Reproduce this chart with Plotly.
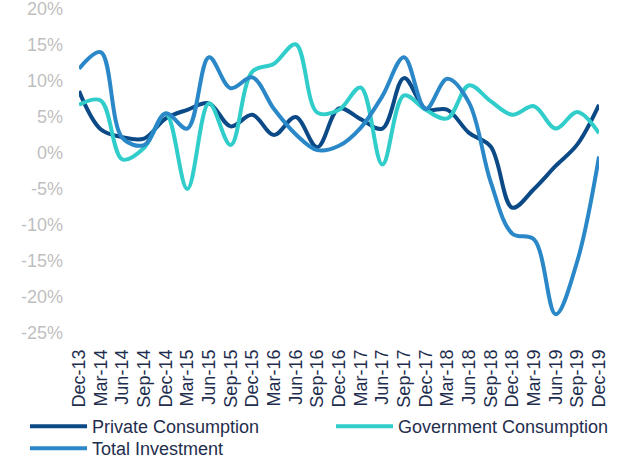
import plotly.graph_objects as go

quarters = ["Dec-13", "Mar-14", "Jun-14", "Sep-14", "Dec-14", "Mar-15", "Jun-15", "Sep-15",
            "Dec-15", "Mar-16", "Jun-16", "Sep-16", "Dec-16", "Mar-17", "Jun-17", "Sep-17",
            "Dec-17", "Mar-18", "Jun-18", "Sep-18", "Dec-18", "Mar-19", "Jun-19", "Sep-19", "Dec-19"]

private_consumption = [8.6, 3.3, 2.2, 2.0, 4.8, 6.0, 6.9, 3.7, 5.3, 2.5, 5.0, 0.8, 6.2, 4.7, 3.4,
                       10.4, 6.1, 6.0, 2.8, 0.9, -7.6, -5.0, -1.8, 1.2, 6.7]
government_consumption = [6.7, 7.3, -0.9, 0.7, 5.5, -5.0, 6.9, 1.1, 11.3, 12.4, 15.1, 5.6, 6.0,
                          9.1, -1.6, 8.0, 6.0, 4.8, 9.4, 7.2, 5.3, 6.5, 3.4, 5.7, 2.75]
total_investment = [11.7, 14.0, 2.1, 1.1, 5.5, 3.4, 13.3, 9.0, 10.5, 6.1, 2.6, 0.4, 1.0, 3.5, 7.9,
                    13.3, 6.1, 10.3, 7.0, -4.0, -11.2, -12.0, -22.4, -15.0, -0.5]

y_ticks = [20, 15, 10, 5, 0, -5, -10, -15, -20, -25]

series = [
    ("Private Consumption", private_consumption, "#0B4A86", "legend"),
    ("Government Consumption", government_consumption, "#30CDCB", "legend2"),
    ("Total Investment", total_investment, "#2A87C8", "legend3"),
]

FONT = "Arial, Liberation Sans, sans-serif"
NAVY_TEXT = "#1F2E4E"

x_idx = list(range(len(quarters)))

fig = go.Figure()
for name, vals, color, lg in series:
    fig.add_trace(go.Scatter(
        x=x_idx, y=vals, name=name, mode="lines", legend=lg,
        line=dict(color=color, width=4, shape="spline", smoothing=1.0),
        hoverinfo="skip",
    ))

ymin, ymax = min(y_ticks), max(y_ticks)
zero_frac = (0 - ymin) / (ymax - ymin)

W, H = 626, 460


def legend_box(px_x, px_top):
    return dict(
        xref="container", yref="container",
        x=px_x / W, y=1 - px_top / H, xanchor="left", yanchor="top",
        font=dict(family=FONT, size=18, color=NAVY_TEXT),
        itemwidth=57, bgcolor="rgba(0,0,0,0)", borderwidth=0,
    )


fig.update_layout(
    width=W, height=H,
    margin=dict(l=79, r=27, t=9, b=127, autoexpand=False),
    paper_bgcolor="white", plot_bgcolor="white",
    font=dict(family=FONT, size=18, color=NAVY_TEXT),
    showlegend=True,
    legend=legend_box(25, 408),
    legend2=legend_box(331, 408),
    legend3=legend_box(25, 430),
    xaxis=dict(
        range=[0, 24], tickmode="array", tickvals=x_idx, ticktext=quarters,
        tickangle=-90, showgrid=False, zeroline=False, showline=False,
        ticks="", ticklabelstandoff=12, automargin=False,
        tickfont=dict(family=FONT, size=18, color=NAVY_TEXT),
    ),
    xaxis2=dict(
        range=[0, 24], overlaying="x", anchor="free", position=zero_frac,
        tickmode="array", tickvals=x_idx, showticklabels=False,
        showline=True, linecolor="#D9D9D9", linewidth=1,
        ticks="outside", ticklen=5, tickcolor="#D9D9D9", tickwidth=1,
        showgrid=False, zeroline=False, layer="below traces",
    ),
    yaxis=dict(
        range=[ymin, ymax], tickmode="array", tickvals=y_ticks,
        ticktext=[f"{v}%" for v in y_ticks],
        showgrid=False, zeroline=False, showline=False, ticks="",
        ticklabelstandoff=15, ticklabeloverflow="allow", automargin=False,
        tickfont=dict(family=FONT, size=18, color="#BFBFBF"),
    ),
)

fig.write_html(
    "out.html",
    config={"displayModeBar": False, "staticPlot": True},
    post_script="document.body.style.margin='0px'; document.body.style.overflow='hidden';",
)
